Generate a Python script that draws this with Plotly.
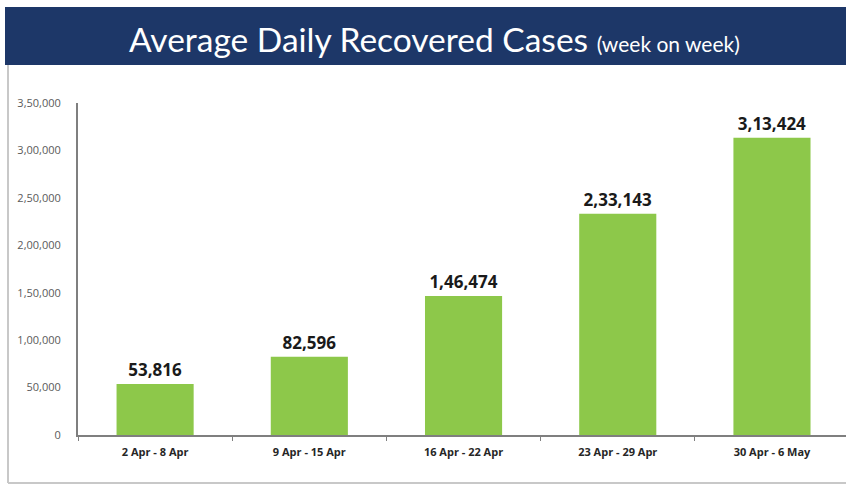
import plotly.graph_objects as go

categories = ["2 Apr - 8 Apr", "9 Apr - 15 Apr", "16 Apr - 22 Apr", "23 Apr - 29 Apr", "30 Apr - 6 May"]
recovered = [53816, 82596, 146474, 233143, 313424]
y_tick_vals = [0, 50000, 100000, 150000, 200000, 250000, 300000, 350000]
y_tick_text = ["0", "50,000", "1,00,000", "1,50,000", "2,00,000", "2,50,000", "3,00,000", "3,50,000"]


def indian(n):
    s = str(int(n))
    if len(s) <= 3:
        return s
    head, tail = s[:-3], s[-3:]
    parts = []
    while len(head) > 2:
        parts.insert(0, head[-2:])
        head = head[:-2]
    if head:
        parts.insert(0, head)
    return ",".join(parts) + "," + tail


W, H = 846, 486
ML, MR, MT, MB = 78, 0, 103, 51
PW, PH = W - ML - MR, H - MT - MB


def px(x):
    return (x - ML) / PW


def py(y):
    return (H - MB - y) / PH


fig = go.Figure(go.Bar(
    x=categories, y=recovered,
    marker=dict(color="#8dc84a", line=dict(width=0)),
    text=[indian(v) for v in recovered],
    textposition="outside",
    textfont=dict(family="Open Sans", size=17, color="#1a1a1a", weight="bold"),
    cliponaxis=False,
))

fig.update_layout(
    width=W, height=H,
    margin=dict(l=ML, r=MR, t=MT, b=MB),
    paper_bgcolor="white", plot_bgcolor="white",
    bargap=0.5,
    showlegend=False,
    xaxis=dict(
        range=[-0.5, 4.48],
        showline=True, linecolor="#7f7f7f", linewidth=2,
        ticks="outside", tickson="boundaries", ticklen=4, tickcolor="#7f7f7f",
        ticklabelstandoff=6,
        tickfont=dict(family="Open Sans", size=11, color="#262626", weight="bold"),
        showgrid=False,
    ),
    yaxis=dict(
        range=[0, 350000],
        tickvals=y_tick_vals, ticktext=y_tick_text,
        showline=True, linecolor="#7f7f7f", linewidth=2,
        showgrid=False, zeroline=False,
        ticks="", ticklabelstandoff=13,
        tickfont=dict(family="Open Sans", size=11, color="#5a5a5a"),
    ),
    shapes=[
        dict(type="rect", xref="paper", yref="paper",
             x0=px(5), x1=px(846), y0=py(65), y1=py(7),
             fillcolor="#1d3768", line=dict(width=0), layer="below"),
        dict(type="line", xref="paper", yref="paper",
             x0=px(8), x1=px(8), y0=py(65), y1=py(483),
             line=dict(color="#c8c8c8", width=2)),
        dict(type="line", xref="paper", yref="paper",
             x0=px(8), x1=px(846), y0=py(483), y1=py(483),
             line=dict(color="#c8c8c8", width=2)),
    ],
    annotations=[
        dict(xref="paper", yref="paper", x=px(434), y=py(39),
             xanchor="center", yanchor="middle", showarrow=False,
             text="Average Daily Recovered Cases <span style='font-size:21px'>(week on week)</span>",
             font=dict(family="Lato", size=33.5, color="white")),
    ],
)

fig.write_html("out.html", config={"displayModeBar": False},
               post_script="document.body.style.margin='0px';document.body.style.overflow='hidden';")
